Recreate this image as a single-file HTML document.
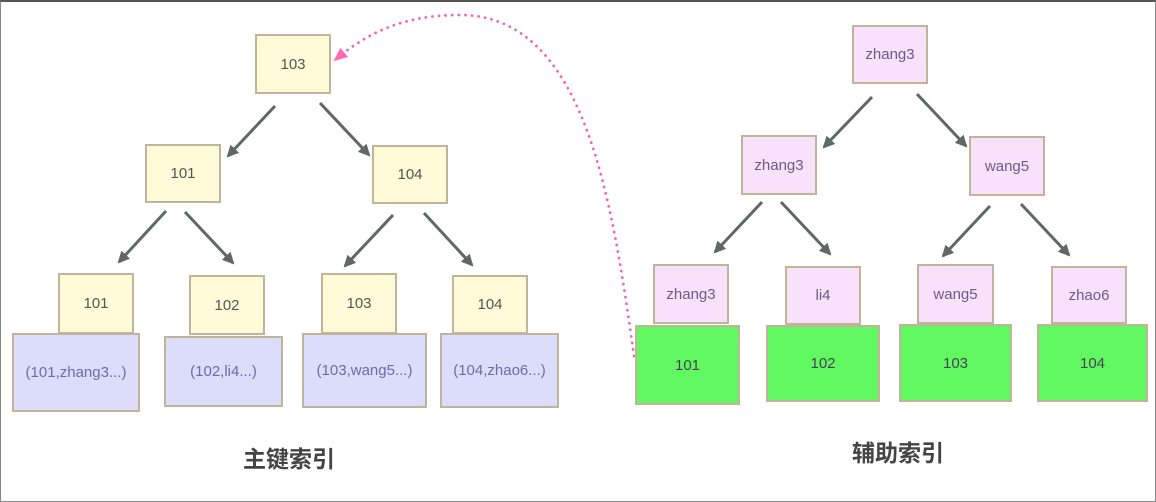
<!DOCTYPE html>
<html><head><meta charset="utf-8"><style>
html,body{margin:0;padding:0;background:#fff}
body{width:1156px;height:502px;overflow:hidden;position:relative;font-family:"Liberation Sans","Noto Sans CJK SC",sans-serif}
.b{position:absolute;box-sizing:border-box;border:2px solid #c2b49a;display:flex;align-items:center;justify-content:center;font-size:15px}
.y{background:#fffbd8;color:#555}
.u{background:#dcdcfb;color:#6c6ca8}
.p{background:#f8e1fa;color:#6e5a86}
.g{background:#62f862;color:#445}
.t{position:absolute;font-size:23px;font-weight:bold;color:#444;transform:translateX(-50%);white-space:nowrap}
</style></head><body>
<div style="position:absolute;left:0;top:0;width:1156px;height:502px;box-sizing:border-box;border:1px solid #888;border-top:2px solid #555"></div>
<svg width="1156" height="502" style="position:absolute;left:0;top:0">
<defs><marker id="a" markerWidth="12" markerHeight="12" refX="10" refY="6" orient="auto" markerUnits="userSpaceOnUse"><path d="M0,0 L12,6 L0,12 z" fill="#5f6866"/></marker>
<marker id="pk" markerWidth="14" markerHeight="12" refX="12" refY="6" orient="auto" markerUnits="userSpaceOnUse"><path d="M0,0 L14,6 L0,12 z" fill="#ff6ab0"/></marker></defs>
<g stroke="#5f6866" stroke-width="3" marker-end="url(#a)">
<line x1="275" y1="106" x2="228" y2="156"/><line x1="320" y1="103" x2="369" y2="155"/>
<line x1="166" y1="211" x2="119" y2="262"/><line x1="185" y1="212" x2="233" y2="263"/>
<line x1="393" y1="215" x2="345" y2="266"/><line x1="424" y1="213" x2="472" y2="265"/>
<line x1="872" y1="97" x2="824" y2="147"/><line x1="917" y1="94" x2="966" y2="146"/>
<line x1="762" y1="202" x2="715" y2="252"/><line x1="781" y1="202" x2="830" y2="254"/>
<line x1="990" y1="206" x2="943" y2="256"/><line x1="1021" y1="204" x2="1069" y2="255"/>
</g>
<path d="M634,356 C612,200 585,15 460,15 C400,15 365,35 335,60" fill="none" stroke="#f06aa8" stroke-width="2.8" stroke-dasharray="0.1 6.5" stroke-linecap="round" marker-end="url(#pk)"/>
</svg>
<div class="b y" style="left:255px;top:34px;width:76px;height:60px">103</div>
<div class="b y" style="left:145px;top:144px;width:76px;height:59px">101</div>
<div class="b y" style="left:372px;top:145px;width:76px;height:59px">104</div>
<div class="b y" style="left:58px;top:273px;width:76px;height:61px">101</div>
<div class="b y" style="left:189px;top:275px;width:76px;height:60px">102</div>
<div class="b y" style="left:321px;top:273px;width:76px;height:61px">103</div>
<div class="b y" style="left:452px;top:275px;width:76px;height:59px">104</div>
<div class="b u" style="left:12px;top:333px;width:128px;height:79px">(101,zhang3...)</div>
<div class="b u" style="left:164px;top:336px;width:119px;height:71px">(102,li4...)</div>
<div class="b u" style="left:302px;top:333px;width:125px;height:75px">(103,wang5...)</div>
<div class="b u" style="left:440px;top:333px;width:119px;height:75px">(104,zhao6...)</div>
<div class="b p" style="left:852px;top:25px;width:76px;height:59px">zhang3</div>
<div class="b p" style="left:741px;top:135px;width:76px;height:60px">zhang3</div>
<div class="b p" style="left:969px;top:136px;width:76px;height:60px">wang5</div>
<div class="b p" style="left:653px;top:264px;width:76px;height:60px">zhang3</div>
<div class="b p" style="left:785px;top:266px;width:76px;height:59px">li4</div>
<div class="b p" style="left:917px;top:264px;width:77px;height:60px">wang5</div>
<div class="b p" style="left:1051px;top:266px;width:76px;height:58px">zhao6</div>
<div class="b g" style="left:635px;top:325px;width:105px;height:80px">101</div>
<div class="b g" style="left:766px;top:325px;width:114px;height:77px">102</div>
<div class="b g" style="left:899px;top:324px;width:113px;height:78px">103</div>
<div class="b g" style="left:1037px;top:324px;width:111px;height:78px">104</div>
<div class="t" style="left:289px;top:440px">主键索引</div>
<div class="t" style="left:898px;top:434px">辅助索引</div>
</body></html>
